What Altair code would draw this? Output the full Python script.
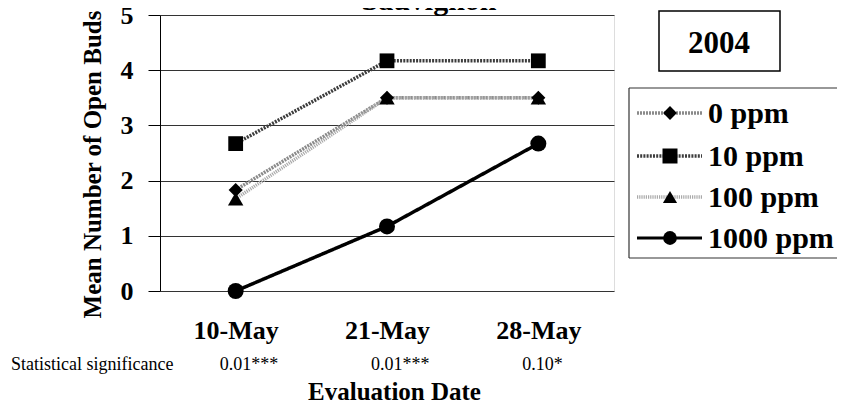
import altair as alt
import pandas as pd

dates = ["10-May", "21-May", "28-May"]
series = ["0 ppm", "10 ppm", "100 ppm", "1000 ppm"]
vals_0 = [1.83, 3.5, 3.5]
vals_10 = [2.67, 4.17, 4.17]
vals_100 = [1.67, 3.5, 3.5]
vals_1000 = [0.0, 1.17, 2.67]
significance = ["0.01***", "0.01***", "0.10*"]
y_ticks = [0, 1, 2, 3, 4, 5]

all_vals = [vals_0, vals_10, vals_100, vals_1000]
rows = []
for s, vs in zip(series, all_vals):
    for d, v in zip(dates, vs):
        rows.append({"series": s, "date": d, "value": v})
df = pd.DataFrame(rows)
sig_df = pd.DataFrame({"date": dates, "sig": significance})
one = pd.DataFrame({"k": [0]})

FONT = "Liberation Serif"
colors = ["#8a8a8a", "#3c3c3c", "#a9a9a9", "#000000"]
dashes = [[2, 1], [2, 1.2], [1.2, 1], [1, 0]]
widths = [3.5, 3.5, 3.5, 3]
shapes = ["diamond", "square", "triangle-up", "circle"]
sizes = [200, 256, 240, 180]

x_enc = alt.X("date:N", sort=dates,
              scale=alt.Scale(type="point", padding=0.5, domain=dates),
              axis=alt.Axis(title="Evaluation Date", ticks=False, domain=False,
                            labelFont=FONT, labelFontSize=26, labelFontWeight="bold",
                            labelPadding=26, labelColor="black", labelAngle=0,
                            titleFont=FONT, titleFontSize=25, titleFontWeight="bold",
                            titleColor="black", titleX=234, titleY=108,
                            titleBaseline="alphabetic", titleAlign="center"))
y_enc = alt.Y("value:Q", scale=alt.Scale(domain=[0, 5], nice=False),
              axis=alt.Axis(title="Mean Number of Open Buds", values=y_ticks,
                            grid=True, gridColor="#333333", gridWidth=1,
                            tickSize=12, tickColor="black", domainColor="black",
                            labelFont=FONT, labelFontSize=26, labelFontWeight="bold",
                            labelPadding=15, labelColor="black",
                            titleFont=FONT, titleFontSize=25, titleFontWeight="bold",
                            titleColor="black", titleAngle=270, titleX=-60, titleY=149,
                            titleBaseline="alphabetic", titleAlign="center"))

lines = alt.Chart(df).mark_line().encode(
    x=x_enc, y=y_enc,
    color=alt.Color("series:N", scale=alt.Scale(domain=series, range=colors), legend=None),
    strokeDash=alt.StrokeDash("series:N", scale=alt.Scale(domain=series, range=dashes), legend=None),
    strokeWidth=alt.StrokeWidth("series:N", scale=alt.Scale(domain=series, range=widths), legend=None),
    order=alt.Order("date:N"),
)

points = alt.Chart(df).mark_point(filled=True, opacity=1, color="black").encode(
    x=alt.X("date:N", sort=dates), y="value:Q",
    shape=alt.Shape("series:N", scale=alt.Scale(domain=series, range=shapes), legend=None),
    size=alt.Size("series:N", scale=alt.Scale(domain=series, range=sizes), legend=None),
)

sig_text = alt.Chart(sig_df).mark_text(font=FONT, fontSize=18, align="left",
                                       baseline="alphabetic", dx=-16, color="black").encode(
    x=alt.X("date:N", sort=dates), y=alt.value(355), text="sig:N")

sig_label = alt.Chart(one).mark_text(font=FONT, fontSize=18, align="left",
                                     baseline="alphabetic", color="black").encode(
    x=alt.value(-149), y=alt.value(355), text=alt.value("Statistical significance"))

title_text = alt.Chart(one).mark_text(font=FONT, fontSize=30, fontWeight="bold",
                                      align="center", baseline="alphabetic", color="black").encode(
    x=alt.value(269), y=alt.value(-5), text=alt.value("Sauvignon"))

year_box = alt.Chart(one).mark_rect(fill="white", stroke="black", strokeWidth=1.5).encode(
    x=alt.value(499), x2=alt.value(620), y=alt.value(-4), y2=alt.value(56))
year_text = alt.Chart(one).mark_text(font=FONT, fontSize=31, fontWeight="bold",
                                     align="center", baseline="alphabetic", color="black").encode(
    x=alt.value(559), y=alt.value(38), text=alt.value("2004"))

legend_frame = [
    alt.Chart(one).mark_rule(color="#333333", strokeWidth=1.2).encode(
        x=alt.value(469), x2=alt.value(700), y=alt.value(73)),
    alt.Chart(one).mark_rule(color="#333333", strokeWidth=1.2).encode(
        x=alt.value(469), x2=alt.value(700), y=alt.value(243)),
    alt.Chart(one).mark_rule(color="#333333", strokeWidth=1.2).encode(
        x=alt.value(469), y=alt.value(73), y2=alt.value(243)),
]

leg_sizes = [190, 225, 200, 190]
row_y = [98, 141, 182, 223]
legend_layers = []
for i, s in enumerate(series):
    legend_layers.append(alt.Chart(one).mark_rule(
        color=colors[i], strokeDash=dashes[i], strokeWidth=widths[i]).encode(
        x=alt.value(477), x2=alt.value(542), y=alt.value(row_y[i])))
    legend_layers.append(alt.Chart(one).mark_point(
        filled=True, opacity=1, color="black", shape=shapes[i], size=leg_sizes[i]).encode(
        x=alt.value(510), y=alt.value(row_y[i])))
    legend_layers.append(alt.Chart(one).mark_text(
        font=FONT, fontSize=30, fontWeight="bold", align="left", baseline="middle",
        color="black").encode(
        x=alt.value(548), y=alt.value(row_y[i] + 1), text=alt.value(s)))

chart = alt.layer(
    lines, points, sig_text, sig_label, title_text, year_box, year_text,
    *legend_frame, *legend_layers
).properties(
    width=454, height=276,
    autosize=alt.AutoSizeParams(type="none"),
    padding={"left": 152, "top": 7, "right": 223, "bottom": 111},
).configure_view(
    stroke="#444444", strokeWidth=1.2
).configure(background="white")

chart.save("out.html", embed_options={"renderer": "svg", "actions": False})
